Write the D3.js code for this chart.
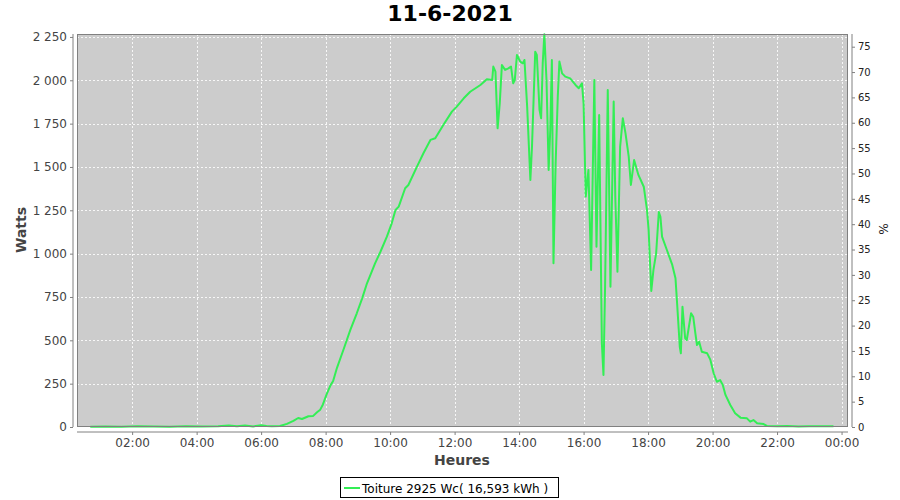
<!DOCTYPE html>
<html>
<head>
<meta charset="utf-8">
<script src="https://cdn.jsdelivr.net/npm/d3@7"></script>
<style>
  body { margin: 0; background: #fff; }
  svg { display: block; font-family: "DejaVu Sans", sans-serif; }
</style>
</head>
<body>
<svg id="chart" width="900" height="500"></svg>
<script>
// ---- data ----
const title = "11-6-2021";
const seriesName = "Toiture 2925 Wc( 16,593 kWh )";
const peakPower = 2925;
const times = ["00:42","01:10","01:40","02:10","02:40","03:10","03:40","04:10","04:40","05:00","05:15","05:30","05:45","06:00","06:10","06:20","06:35","06:48","07:00","07:09","07:16","07:28","07:37","07:44","07:50","07:55","08:02","08:09","08:14","08:21","08:33","08:46","08:58","09:08","09:17","09:32","09:42","09:54","10:03","10:10","10:16","10:28","10:34","10:50","11:02","11:15","11:24","11:39","11:55","12:04","12:17","12:29","12:48","13:00","13:10","13:12","13:16","13:20","13:24","13:28","13:34","13:40","13:45","13:49","13:52","13:56","14:02","14:07","14:10","14:15","14:21","14:24","14:30","14:33","14:38","14:41","14:44","14:47","14:51","14:55","14:58","15:01","15:04","15:08","15:12","15:15","15:20","15:26","15:35","15:45","15:51","15:57","16:00","16:04","16:09","16:14","16:20","16:24","16:29","16:34","16:37","16:40","16:45","16:50","16:56","16:59","17:03","17:08","17:13","17:18","17:24","17:28","17:34","17:42","17:52","17:58","18:01","18:06","18:10","18:15","18:20","18:23","18:26","18:35","18:45","18:51","18:54","18:59","19:01","19:04","19:09","19:12","19:20","19:24","19:28","19:31","19:35","19:40","19:50","19:56","20:02","20:08","20:14","20:19","20:24","20:33","20:42","20:52","21:04","21:10","21:16","21:23","21:35","21:41","22:00","22:19","22:40","23:00","23:20","23:45"];
const watts = [2,3,2,4,3,2,5,3,4,8,5,9,3,10,6,4,6,18,35,52,46,62,64,85,100,130,190,240,265,340,444,560,656,742,829,944,1011,1098,1175,1252,1271,1377,1396,1502,1579,1656,1666,1742,1819,1848,1896,1934,1973,2006,2002,2079,2050,1723,1867,2088,2060,2069,2079,1983,2002,2146,2108,2098,2117,1848,1425,1617,2165,2146,1829,1781,2098,2265,2002,1483,1713,2117,944,1521,1906,2108,2040,2021,2011,1973,1954,1983,1867,1329,1483,906,2002,1040,1800,483,300,809,1944,809,1877,1329,896,1617,1781,1694,1560,1396,1540,1454,1386,1252,1137,785,906,1002,1240,1213,1098,1021,935,858,714,463,425,694,512,502,656,636,540,473,492,434,425,387,310,261,271,242,185,127,79,54,50,31,40,21,17,6,4,6,3,5,4,5];
const leftTicks = [0,250,500,750,1000,1250,1500,1750,2000,2250];
const rightTicks = [0,5,10,15,20,25,30,35,40,45,50,55,60,65,70,75];
const xTickHours = [2,4,6,8,10,12,14,16,18,20,22,24];

// ---- layout ----
const svg = d3.select("#chart");
const L = 77, R = 848, T = 34, B = 427;
const toH = s => { const [h, m] = s.split(":").map(Number); return h + m / 60; };
const data = times.map((t, i) => ({ t: toH(t), w: watts[i] }));

const x = d3.scaleLinear().domain([0.29, 24.2]).range([L, R]);
const yMax = 2267;
const y = d3.scaleLinear().domain([0, yMax]).range([B, T]);
const y2 = d3.scaleLinear().domain([0, yMax / peakPower * 100]).range([B, T]);

// plot background
svg.append("rect").attr("x", L).attr("y", T).attr("width", R - L).attr("height", B - T)
  .attr("fill", "#cccccc");

// grid
const grid = svg.append("g").attr("stroke", "#ffffff").attr("stroke-width", 1)
  .attr("stroke-dasharray", "2,2").attr("opacity", 0.85);
xTickHours.forEach(h => {
  const px = Math.round(x(h)) + 0.5;
  grid.append("line").attr("x1", px).attr("x2", px).attr("y1", T).attr("y2", B);
});
leftTicks.forEach(v => {
  const py = Math.round(y(v)) + 0.5;
  grid.append("line").attr("x1", L).attr("x2", R).attr("y1", py).attr("y2", py);
});

// line
const line = d3.line().x(d => x(d.t)).y(d => y(d.w));
svg.append("path").datum(data).attr("d", line).attr("fill", "none")
  .attr("stroke", "#33ee55").attr("stroke-width", 2).attr("stroke-linejoin", "round");

// plot border
svg.append("rect").attr("x", L + 0.5).attr("y", T + 0.5).attr("width", R - L - 1).attr("height", B - T - 1)
  .attr("fill", "none").attr("stroke", "#808080").attr("stroke-width", 1);

// axes
const fmtW = d => d3.format(",")(d).replace(/,/g, " ");
const fmtH = h => String(h % 24).padStart(2, "0") + ":00";

const gL = svg.append("g").attr("transform", `translate(${L - 4},0)`)
  .call(d3.axisLeft(y).tickValues(leftTicks).tickFormat(fmtW).tickSize(3).tickPadding(3));
const gR = svg.append("g").attr("transform", `translate(${R + 4},0)`)
  .call(d3.axisRight(y2).tickValues(rightTicks).tickSize(3).tickPadding(3));
const gX = svg.append("g").attr("transform", `translate(0,${B + 5})`)
  .call(d3.axisBottom(x).tickValues(xTickHours).tickFormat(fmtH).tickSize(3).tickPadding(3));

[gL, gR, gX].forEach(g => {
  g.select(".domain").attr("stroke", "#808080");
  g.selectAll(".tick line").attr("stroke", "#808080");
});
gL.selectAll("text").attr("font-size", 12).attr("fill", "#444444").attr("font-family", "DejaVu Sans");
gX.selectAll("text").attr("font-size", 12).attr("fill", "#444444").attr("font-family", "DejaVu Sans");
gR.selectAll("text").attr("font-size", 10).attr("fill", "#222222").attr("font-family", "DejaVu Sans");
gL.select(".domain").attr("d", `M0,${T}V${B}`);
gR.select(".domain").attr("d", `M0,${T}V${B}`);
gX.select(".domain").attr("d", `M${L},0H${R}`);

// titles
svg.append("text").attr("x", 450).attr("y", 21).attr("text-anchor", "middle")
  .attr("font-size", 22).attr("font-weight", "bold").attr("fill", "#000").text(title);
svg.append("text").attr("transform", "translate(26,230) rotate(-90)").attr("text-anchor", "middle")
  .attr("font-size", 14).attr("font-weight", "bold").attr("fill", "#444444").text("Watts");
svg.append("text").attr("x", 462).attr("y", 465).attr("text-anchor", "middle")
  .attr("font-size", 14).attr("font-weight", "bold").attr("fill", "#444444").text("Heures");
svg.append("text").attr("transform", "translate(879,229) rotate(90)").attr("text-anchor", "middle")
  .attr("font-size", 12).attr("fill", "#222222").text("%");

// legend
const lg = svg.append("g");
lg.append("rect").attr("x", 340.5).attr("y", 477.5).attr("width", 218).attr("height", 20)
  .attr("fill", "#fff").attr("stroke", "#000").attr("stroke-width", 1);
lg.append("line").attr("x1", 344).attr("x2", 360).attr("y1", 488).attr("y2", 488)
  .attr("stroke", "#33ee55").attr("stroke-width", 2);
lg.append("text").attr("x", 362).attr("y", 492.5).attr("font-size", 12).attr("fill", "#000").text(seriesName);
</script>
</body>
</html>
